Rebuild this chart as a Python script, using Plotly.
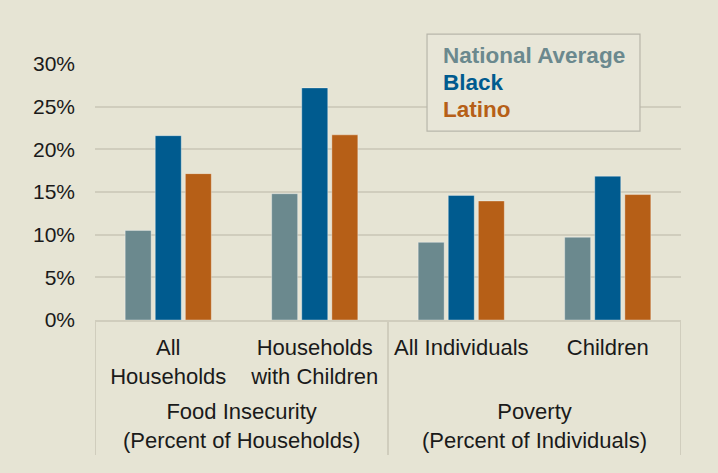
import plotly.graph_objects as go

# ---- data ----
groups = ["Food Insecurity<br>(Percent of Households)", "Food Insecurity<br>(Percent of Households)",
          "Poverty<br>(Percent of Individuals)", "Poverty<br>(Percent of Individuals)"]
categories = ["All<br>Households", "Households<br>with Children", "All Individuals", "Children"]
series_names = ["National Average", "Black", "Latino"]
national = [10.5, 14.8, 9.1, 9.7]
black = [21.6, 27.2, 14.6, 16.85]
latino = [17.15, 21.7, 13.95, 14.7]
tick_vals = [0, 5, 10, 15, 20, 25, 30]
tick_text = ["0%", "5%", "10%", "15%", "20%", "25%", "30%"]

colors = ["#6b898e", "#005b8f", "#b65f17"]
bg = "#e6e4d4"
grid = "#d0cdbd"
font_family = "Liberation Sans, Arial, sans-serif"
txt = "#1a1a1a"

fig = go.Figure()
for name, vals, col in zip(series_names, [national, black, latino], colors):
    fig.add_trace(go.Bar(
        x=categories, y=vals, name=name,
        marker=dict(color=col, line=dict(color="rgba(255,255,255,0.35)", width=1)),
        showlegend=False,
    ))

# group labels and dividers (second level of the category axis)
unique_groups = []
for g in groups:
    if g not in unique_groups:
        unique_groups.append(g)
div_y = -(455 - 320) / 256
boundaries = [-0.5]
for g in unique_groups:
    idx = [i for i, gg in enumerate(groups) if gg == g]
    center = sum(idx) / len(idx)
    boundaries.append(max(idx) + 0.5)
    fig.add_annotation(xref="x", yref="paper", x=center, y=-0.413,
                       xanchor="center", yanchor="middle", showarrow=False,
                       text=g, font=dict(family=font_family, size=22, color=txt))
for b in boundaries:
    fig.add_shape(type="line", xref="x", yref="paper", x0=b, x1=b, y0=0, y1=div_y,
                  line=dict(color=grid, width=2))

# legend box and colored text
fig.add_shape(type="rect", xref="paper", yref="paper",
              x0=0.5666, x1=0.930, y0=0.738, y1=1.117,
              line=dict(color="#b8b6aa", width=1.2), fillcolor="#e8e6d8", layer="above")
for i, (name, col) in enumerate(zip(series_names, colors)):
    fig.add_annotation(xref="paper", yref="paper", x=0.590, y=1.035 - i * 0.1055,
                       xanchor="left", yanchor="middle", showarrow=False,
                       text="<b>%s</b>" % name,
                       font=dict(family=font_family, size=22.5, color=col))

fig.update_layout(
    width=718, height=473,
    paper_bgcolor=bg, plot_bgcolor=bg,
    margin=dict(l=95, r=37, t=64, b=153),
    barmode="group", bargap=0.384, bargroupgap=0.136,
    font=dict(family=font_family, size=22, color=txt),
)
fig.update_yaxes(range=[0, 30], tickvals=tick_vals, ticktext=tick_text,
                 showgrid=True, gridcolor=grid, gridwidth=2, zeroline=False,
                 showline=False, ticks="", ticklabelstandoff=19,
                 tickfont=dict(size=21, color=txt))
fig.update_xaxes(type="category", range=[-0.5, 3.5], showline=True, linecolor=grid, linewidth=2,
                 ticks="", ticklabelstandoff=7, tickfont=dict(size=22, color=txt))

fig.write_html("out.html")
